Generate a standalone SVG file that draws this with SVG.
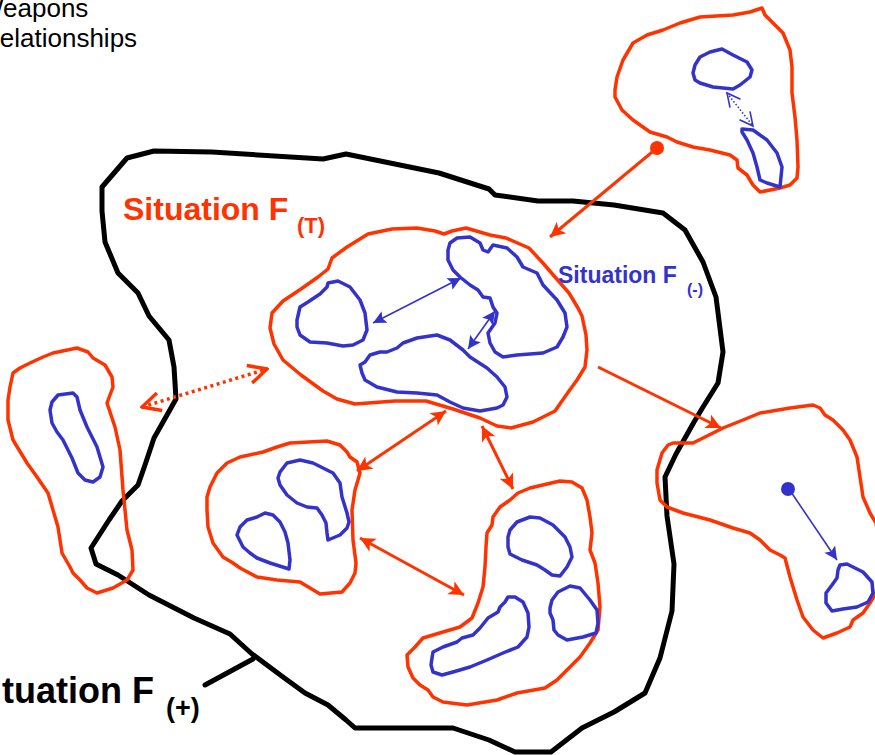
<svg xmlns="http://www.w3.org/2000/svg" width="875" height="755" viewBox="0 0 875 755">
  <style>
    .outer { fill: none; stroke: #000000; stroke-width: 5; stroke-linejoin: round; stroke-linecap: round; }
    .sit { fill: none; stroke: #FF3300; stroke-width: 3.5; stroke-linejoin: round; stroke-linecap: round; }
    .sub { fill: none; stroke: #3333CC; stroke-width: 3.5; stroke-linejoin: round; stroke-linecap: round; }
    .link-o { fill: none; stroke: #FF3300; stroke-width: 3; }
    .link-b { fill: none; stroke: #3333CC; stroke-width: 1.6; }
    .dots-o { fill: none; stroke: #FF3300; stroke-width: 3.5; stroke-dasharray: 3 3.5; }
    .dots-b { fill: none; stroke: #3333CC; stroke-width: 1.5; stroke-dasharray: 1.5 2; }
    .lbl { font-family: "Liberation Sans", Arial, sans-serif; font-weight: bold; }
    .note { font-family: "Liberation Sans", Arial, sans-serif; font-size: 26px; fill: #000000; }
  </style>
  <defs>
    <marker id="ah-o" viewBox="0 0 10 10" refX="10" refY="5" markerWidth="19" markerHeight="15" markerUnits="userSpaceOnUse" orient="auto-start-reverse">
      <path d="M0,0 L10,5 L0,10 L2.5,5 Z" fill="#FF3300"/>
    </marker>
    <marker id="ah-b" viewBox="0 0 10 10" refX="10" refY="5" markerWidth="15" markerHeight="13" markerUnits="userSpaceOnUse" orient="auto-start-reverse">
      <path d="M0,0 L10,5 L0,10 L2,5 Z" fill="#3333CC"/>
    </marker>
    <marker id="open-o" viewBox="0 0 12 12" refX="11" refY="6" markerWidth="22" markerHeight="22" markerUnits="userSpaceOnUse" orient="auto-start-reverse">
      <path d="M1,1 L11,6 L1,11" fill="none" stroke="#FF3300" stroke-width="1.9"/>
    </marker>
    <marker id="open-b" viewBox="0 0 12 12" refX="11" refY="6" markerWidth="18" markerHeight="16" markerUnits="userSpaceOnUse" orient="auto-start-reverse">
      <path d="M1,1 L11,6 L1,11" fill="none" stroke="#3333CC" stroke-width="1.2"/>
    </marker>
  </defs>

  <rect width="875" height="755" fill="#FFFFFF"/>

  <!-- corner note -->
  <text class="note" x="-21" y="17">Weapons</text>
  <text class="note" x="-19" y="47">Relationships</text>

  <!-- Situation F(+): the enclosing black region -->
  <g id="situation-plus">
    <path class="outer" d="M102,187 L127,158 L154,151 L212,152 L323,159 L346,154 L439,173 L489,189 L495,195 L538,201 L573,201 L614,205 L663,213 L685,230 L703,262 L716,297 L723,352 L718,383 L703,407 L694,422 L676,454 L665,477 L667,516 L674,564 L672,611 L660,658 L645,693 L614,712 L582,728 L551,752 L515,752 L489,740 L453,728 L355,728 L346,720 L328,705 L305,693 L283,677 L252,654 L230,634 L194,618 L149,595 L118,575 L96,564 L91,548 L109,520 L122,501 L138,485 L145,465 L154,438 L167,415 L176,399 L174,367 L169,340 L149,316 L138,293 L118,273 L105,242 L102,211 Z"/>
    <line class="outer" x1="205" y1="685" x2="253" y2="659" stroke-linecap="butt"/>
    <text class="lbl" x="-32" y="703" font-size="36" fill="#000000">Situation F<tspan x="166" y="717" font-size="27">(+)</tspan></text>
  </g>

  <!-- Situation F(T): central red region with three blue sub-situations -->
  <g id="situation-t">
    <path class="sit" d="M272,313 L283,301 L301,289 L318,277 L328,269 L332,258 L347,247 L368,234 L392,229 L417,228 L435,231 L444,234 L452,231 L466,228 L490,235 L506,238 L529,248 L542,262 L555,277 L569,293 L578,308 L582,316 L586,335 L587,350 L585,367 L577,380 L569,391 L555,411 L533,422 L511,428 L497,426 L480,418 L453,409 L426,401 L395,401 L355,404 L337,399 L323,391 L301,375 L283,360 L274,344 L270,328 Z"/>
    <path class="sub" d="M297,320 L300,307 L308,302 L320,294 L327,287 L328,283 L338,281 L350,287 L360,300 L365,313 L367,330 L363,340 L353,345 L343,346 L327,343 L310,342 L300,335 L297,327 Z"/>
    <path class="sub" d="M448,250 L450,243 L457,238 L470,237 L480,243 L483,250 L488,252 L493,245 L507,248 L517,257 L523,267 L537,273 L543,285 L557,300 L565,313 L567,327 L563,337 L557,347 L543,353 L517,355 L503,357 L495,352 L490,343 L488,333 L495,323 L497,313 L493,307 L490,298 L483,297 L478,290 L470,285 L460,277 L453,270 L448,260 Z"/>
    <path class="sub" d="M362,373 L360,365 L365,362 L370,355 L380,352 L387,352 L397,348 L403,343 L417,338 L437,335 L450,340 L463,350 L470,357 L487,368 L497,377 L505,387 L507,397 L503,405 L497,408 L480,411 L463,408 L450,402 L437,395 L417,393 L397,392 L377,387 L365,380 Z"/>
    <text class="lbl" x="123" y="220" font-size="32" fill="#FF3300">Situation F<tspan x="297" y="233" font-size="22">(T)</tspan></text>
    <text class="lbl" x="558" y="283" font-size="23" fill="#3333CC">Situation F<tspan x="687" y="295" font-size="16">(-)</tspan></text>
  </g>

  <!-- top-right situation -->
  <g id="situation-top-right">
    <path class="sit" d="M615,90 L617,77 L623,60 L633,43 L647,35 L663,30 L680,23 L700,17 L733,15 L750,12 L762,8 L765,15 L773,23 L783,33 L790,50 L792,67 L792,93 L795,117 L797,140 L798,167 L797,178 L790,185 L780,188 L760,192 L753,185 L747,175 L738,168 L737,160 L730,155 L710,150 L693,147 L677,142 L667,137 L650,132 L633,120 L622,110 L615,97 Z"/>
    <path class="sub" d="M693,73 L695,65 L700,57 L710,52 L722,49 L733,55 L747,62 L752,70 L750,77 L740,85 L733,89 L713,87 L700,83 L695,80 Z"/>
    <path class="sub" d="M742,129 L753,130 L767,140 L777,153 L782,167 L780,187 L767,183 L760,180 L757,167 L753,153 L747,140 L742,132 Z"/>
    <line class="dots-b" x1="727" y1="93" x2="753" y2="126" marker-start="url(#open-b)" marker-end="url(#open-b)"/>
  </g>

  <!-- left situation -->
  <g id="situation-left">
    <path class="sit" d="M13,373 L20,368 L30,363 L43,357 L53,353 L77,348 L88,352 L93,358 L105,365 L112,377 L113,387 L107,403 L115,427 L120,450 L123,490 L127,530 L132,550 L133,570 L127,580 L113,588 L97,593 L87,588 L80,580 L73,573 L70,567 L62,553 L58,527 L53,510 L48,493 L37,477 L27,463 L13,440 L8,420 L8,400 L10,387 Z"/>
    <path class="sub" d="M50,410 L52,402 L58,395 L73,393 L77,397 L80,410 L87,427 L97,447 L103,467 L100,477 L93,482 L85,480 L78,473 L72,458 L63,440 L57,432 L52,423 Z"/>
  </g>

  <!-- right situation -->
  <g id="situation-right">
    <path class="sit" d="M660,500 L657,483 L657,470 L662,453 L668,445 L673,443 L693,443 L723,428 L743,420 L760,413 L790,408 L813,405 L820,408 L825,415 L833,420 L843,430 L850,440 L857,457 L860,477 L863,497 L870,513 L876,523 L882,560 L876,593 L870,603 L863,613 L853,620 L850,627 L837,633 L823,638 L813,630 L803,617 L797,600 L790,577 L785,558 L780,555 L770,550 L760,540 L750,533 L733,528 L710,520 L683,513 L667,507 L662,502 Z"/>
    <path class="sub" d="M840,565 L847,564 L863,572 L872,582 L873,593 L868,602 L857,607 L843,609 L832,611 L826,603 L826,593 L832,585 L837,578 L838,570 Z"/>
  </g>

  <!-- lower-left situation -->
  <g id="situation-lower-left">
    <path class="sit" d="M207,497 L210,487 L217,473 L227,463 L240,457 L263,452 L277,447 L290,443 L327,441 L340,445 L347,452 L350,457 L357,462 L360,473 L358,480 L355,490 L352,510 L353,540 L356,563 L355,573 L350,583 L342,592 L320,594 L310,588 L300,582 L277,580 L257,577 L240,568 L233,563 L223,557 L213,543 L208,527 L207,510 Z"/>
    <path class="sub" d="M278,478 L280,472 L287,463 L300,460 L313,463 L323,468 L333,473 L340,483 L342,497 L347,513 L349,522 L347,528 L340,535 L328,540 L327,533 L326,523 L322,515 L317,508 L307,507 L297,503 L287,495 L280,485 Z"/>
    <path class="sub" d="M237,535 L240,527 L247,520 L257,517 L265,513 L273,515 L280,522 L285,532 L288,543 L290,560 L289,569 L270,563 L257,558 L250,553 L243,547 Z"/>
  </g>

  <!-- lower-right situation -->
  <g id="situation-lower-right">
    <path class="sit" d="M407,655 L415,647 L423,638 L443,632 L460,627 L472,618 L478,603 L483,587 L485,567 L486,547 L487,533 L492,525 L493,517 L500,507 L510,500 L518,493 L530,488 L547,484 L560,481 L572,482 L582,488 L587,500 L590,517 L592,533 L590,550 L595,563 L598,583 L600,607 L598,630 L590,643 L580,657 L570,667 L557,680 L545,688 L517,693 L497,700 L467,705 L443,702 L433,697 L428,690 L420,685 L413,678 L408,667 Z"/>
    <path class="sub" d="M508,537 L510,530 L517,522 L530,517 L540,518 L553,525 L565,537 L570,547 L572,557 L567,567 L560,576 L552,575 L545,570 L537,565 L522,560 L510,554 L508,547 Z"/>
    <path class="sub" d="M550,608 L552,600 L558,592 L570,586 L580,588 L590,600 L597,610 L598,623 L596,633 L583,637 L567,640 L558,635 L554,630 L553,620 L550,613 Z"/>
    <path class="sub" d="M432,658 L433,652 L443,647 L457,642 L462,638 L473,635 L480,628 L488,618 L498,612 L500,607 L505,602 L508,597 L515,597 L523,602 L528,613 L529,627 L527,637 L518,647 L503,653 L487,660 L470,667 L453,672 L442,675 L433,672 L431,665 Z"/>
  </g>

  <!-- relationships between situations -->
  <g id="connectors">
    <line class="link-o" x1="657" y1="148" x2="550" y2="237" marker-end="url(#ah-o)"/>
    <circle cx="657" cy="148" r="7" fill="#FF3300"/>
    <line class="dots-o" x1="142" y1="407" x2="267" y2="369" marker-start="url(#open-o)" marker-end="url(#open-o)"/>
    <line class="link-o" x1="598" y1="367" x2="721" y2="428" marker-end="url(#ah-o)"/>
    <line class="link-o" x1="446" y1="411" x2="357" y2="471" marker-start="url(#ah-o)" marker-end="url(#ah-o)"/>
    <line class="link-o" x1="482" y1="426" x2="513" y2="489" marker-start="url(#ah-o)" marker-end="url(#ah-o)"/>
    <line class="link-o" x1="360" y1="538" x2="464" y2="595" marker-start="url(#ah-o)" marker-end="url(#ah-o)"/>
    <line class="link-b" x1="373" y1="323" x2="461" y2="278" marker-start="url(#ah-b)" marker-end="url(#ah-b)"/>
    <line class="link-b" x1="468" y1="349" x2="495" y2="311" marker-start="url(#ah-b)" marker-end="url(#ah-b)"/>
    <line class="link-b" x1="789" y1="489" x2="837" y2="560" marker-end="url(#ah-b)"/>
    <circle cx="788" cy="489" r="7" fill="#3333CC"/>
  </g>
</svg>
